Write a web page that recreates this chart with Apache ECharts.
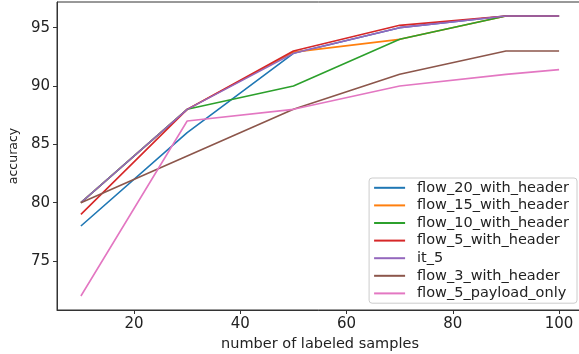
<!DOCTYPE html>
<html><head><meta charset="utf-8">
<script src="https://cdn.jsdelivr.net/npm/echarts@6/dist/echarts.min.js"></script>
<style>html,body{margin:0;padding:0;background:#fff}#c{width:579px;height:354px}</style>
</head><body><div id="c"></div>
<script>
const xValues = [10, 30, 50, 70, 90, 100];
const flow20 = [78, 86, 92.8, 95, 96, 96];
const flow15 = [80, 88, 92.9, 94, 96, 96];
const flow10 = [80, 88, 90, 94, 96, 96];
const flow5 = [79, 88, 93, 95.2, 96, 96];
const it5 = [80, 88, 92.8, 95, 96, 96];
const flow3 = [80, 84, 88, 91, 93, 93];
const flow5payload = [72, 87, 88, 90, 91, 91.4];
const xTicks = [20, 40, 60, 80, 100];
const yTicks = [75, 80, 85, 90, 95];
const names = ['flow_20_with_header','flow_15_with_header','flow_10_with_header','flow_5_with_header','it_5','flow_3_with_header','flow_5_payload_only'];
const colors = ['#1f77b4','#ff7f0e','#2ca02c','#d62728','#9467bd','#8c564b','#e377c2'];
const all = [flow20, flow15, flow10, flow5, it5, flow3, flow5payload];
const font = 'DejaVu Sans';
const chart = echarts.init(document.getElementById('c'));
chart.setOption({
  animation: false,
  color: colors,
  grid: {left: 57, top: 2, right: -4, bottom: 44, show: true, borderColor: '#333', borderWidth: 1, outerBoundsMode: 'none', containLabel: false},
  legend: {
    orient: 'vertical', right: 2, top: 178,
    data: names, icon: 'rect', itemWidth: 31, itemHeight: 2, itemGap: 0,
    backgroundColor: '#fff', borderColor: '#ccc', borderWidth: 1, borderRadius: 3,
    padding: [1, 8, 1, 5],
    textStyle: {fontFamily: font, fontSize: 14.5, color: '#222', padding: [0,0,0,7], lineHeight: 17.6}
  },
  xAxis: {
    type: 'value', min: 5.5, max: 104.5,
    name: 'number of labeled samples', nameLocation: 'middle', nameGap: 23,
    nameTextStyle: {fontFamily: font, fontSize: 14.5, color: '#222'},
    axisLine: {show: true, onZero: false, lineStyle: {color: '#333'}},
    axisTick: {show: true, length: 4, customValues: xTicks, lineStyle: {color: '#333'}},
    axisLabel: {customValues: xTicks, fontFamily: font, fontSize: 15, color: '#222', margin: 7},
    splitLine: {show: false}
  },
  yAxis: {
    type: 'value', min: 70.8, max: 97.2,
    name: 'accuracy', nameLocation: 'middle', nameGap: 36,
    nameTextStyle: {fontFamily: font, fontSize: 12.5, color: '#222'},
    axisLine: {show: true, onZero: false, lineStyle: {color: '#333'}},
    axisTick: {show: true, length: 4, customValues: yTicks, lineStyle: {color: '#333'}},
    axisLabel: {customValues: yTicks, fontFamily: font, fontSize: 15, color: '#222', margin: 7},
    splitLine: {show: false}
  },
  series: names.map((n, i) => ({
    name: n, type: 'line', showSymbol: false, symbol: 'none',
    data: xValues.map((x, j) => [x, all[i][j]]),
    lineStyle: {width: 1.6, color: colors[i]}, z: 2 + i
  }))
});
</script></body></html>
